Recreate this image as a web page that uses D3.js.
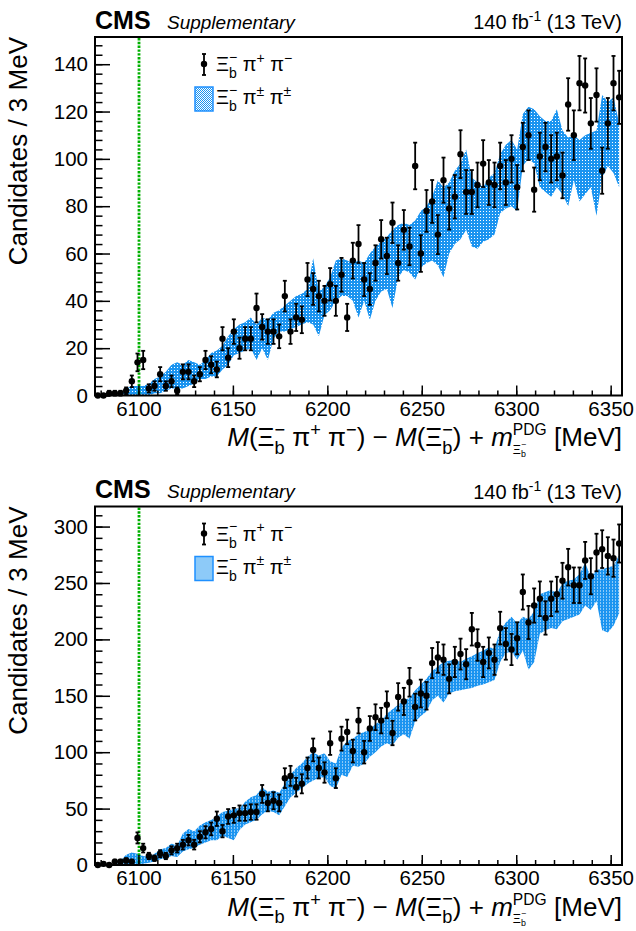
<!DOCTYPE html>
<html>
<head>
<meta charset="utf-8">
<script src="https://cdn.jsdelivr.net/npm/d3@7"></script>
<style>
  body { margin: 0; background: #fff; }
  svg text { font-family: "Liberation Sans", Arial, Helvetica, sans-serif; fill: #000; }
</style>
</head>
<body>
<svg id="chart" width="636" height="931"></svg>
<script>
// binning of the mass spectrum (3 MeV bins)
var binStart = 6077, binWidth = 3;
var xTicks = [6100, 6150, 6200, 6250, 6300, 6350];
var xMinorTicks = d3.range(6080, 6356, 10);
var thresholdMass = 6100.3;

// top panel: Xi_b- pi+ pi- candidates and same-sign band
var topCounts = [0,0,1,1,1,2,6,14,15,3, 4,9,4,6,2,10,10,6,9,15,
  13,11,24,16,27,20,24,24,37,29, 27,27,25,42,27,33,32,49,45,42,
  40,47,40,51,33,57,64,49,45,56, 66,59,73,56,70,63,97,60,78,82,
  68,91,79,84,102,86,86,89,98,90, 89,97,90,100,88,105,110,87,101,105,
  100,101,93,123,110,132,131,115,127,95, 115,132,126];
var topBandLow = [0,0,0,0,0,0,0,0,0,0, 1,1,2,3,3,3,4,5,7,7,
  8,8,11,13,17,18,19,20,15,20, 15,24,27,27,28,29,30,31,30,25,
  34,36,40,42,42,40,33,40,32,40, 44,45,37,50,53,52,49,54,56,57,
  55,50,60,64,66,70,63,62,65,66, 68,77,79,80,78,97,100,98,88,86,
  84,88,85,80,91,82,85,88,76,92, 97,94,88];
var topBandHigh = [0,0,0,0,1,3,4,4,4,5, 7,8,10,13,14,13,15,14,13,15,
  18,19,21,25,28,30,31,33,30,33, 32,35,36,38,40,42,43,45,58,44,
  46,50,57,58,57,56,57,56,60,63, 65,67,70,72,73,72,74,78,80,84,
  91,88,90,95,98,104,92,90,88,92, 94,102,106,108,104,119,122,121,118,116,
  116,121,112,109,110,108,110,111,112,127, 124,126,115];
var topYTicks = [0, 20, 40, 60, 80, 100, 120, 140];
var topYMinor = d3.range(0, 151, 4);

// bottom panel
var botCounts = [0,1,0,3,3,4,3,24,15,8, 6,10,8,13,15,18,22,18,25,29,
  32,41,30,43,44,46,46,47,47,63, 55,57,55,77,79,69,72,86,102,86,
  82,108,77,112,118,101,128,100,121,131, 128,142,117,149,145,162,140,152,150,179,
  184,182,165,180,187,178,209,195,180,188, 182,210,196,191,201,242,215,230,236,219,
  236,240,252,264,248,248,270,256,277,280, 274,272,285];
var botBandLow = [0,0,0,0,0,0,0,0,1,2, 3,5,6,8,7,12,14,15,18,20,
  22,22,26,24,22,31,36,38,40,45, 48,47,44,52,60,64,68,72,75,77,
  78,70,68,80,78,88,87,90,96,100, 105,108,106,113,116,112,127,132,136,146,
  150,144,152,154,155,156,157,159,160,162, 164,180,188,189,182,190,173,180,205,208,
  210,209,216,218,220,222,230,226,234,208, 206,212,223];
var botBandHigh = [0,0,0,0,4,9,11,10,8,7, 10,14,15,19,17,28,32,30,35,38,
  40,43,47,48,50,50,56,60,62,69, 65,66,64,72,80,86,90,96,100,97,
  99,92,90,104,110,112,116,118,120,125, 128,134,138,142,146,148,155,160,165,172,
  176,180,181,182,180,183,185,188,190,193, 192,208,215,220,214,220,218,225,240,242,
  244,241,250,252,253,258,268,255,262,262, 264,265,275];
var botYTicks = [0, 50, 100, 150, 200, 250, 300];
var botYMinor = d3.range(0, 318, 10);

var plotLeft = 95, plotRight = 622, plotH = 358.5;
var svg = d3.select("#chart");
var defs = svg.append("defs");

var band = defs.append("pattern").attr("id", "bandFill")
  .attr("width", 3).attr("height", 3).attr("patternUnits", "userSpaceOnUse");
band.append("rect").attr("width", 3).attr("height", 3).attr("fill", "#1b94f0");
band.append("rect").attr("width", 1).attr("height", 1).attr("fill", "#fff");

var legFill = defs.append("pattern").attr("id", "legFill")
  .attr("width", 2).attr("height", 2).attr("patternUnits", "userSpaceOnUse");
legFill.append("rect").attr("width", 2).attr("height", 2).attr("fill", "#1b94f0");
legFill.append("rect").attr("width", 1).attr("height", 1).attr("fill", "#fff");
legFill.append("rect").attr("x", 1).attr("y", 1).attr("width", 1).attr("height", 1).attr("fill", "#fff");

// text with sub/superscripts, parts flow left to right
function rich(parent, size, parts) {
  var t = parent.append("text").attr("x", 0).style("font-size", size + "px");
  var cur = 0, widths = [];
  parts.forEach(function (p) {
    var sp = t.append("tspan").text(p.t).style("font-size", (size * (p.k || 1)) + "px");
    var shift = (p.sh || 0) * size;
    sp.attr("dy", shift - cur);
    cur = shift;
    if (p.it) sp.style("font-style", "italic");
    if (p.dx) sp.attr("dx", p.dx(widths));
    widths.push(sp.node().getComputedTextLength());
  });
  return t;
}
function back(w) { return -w[w.length - 1]; }

// Xi_b^- with stacked sub/superscript
function XiPart(sub, sup) {
  return [
    { t: "Ξ" },
    { t: "b", k: 0.7, sh: sub },
    { t: "−", k: 0.7, sh: sup, dx: back }
  ];
}

function drawPanel(top, counts, bandLo, bandHi, yMax, yTicks, yMinor, id) {
  var g = svg.append("g").attr("transform", "translate(0," + top + ")");
  var x = d3.scaleLinear().domain([binStart, binStart + binWidth * counts.length]).range([plotLeft, plotRight]);
  var y = d3.scaleLinear().domain([0, yMax]).range([plotH, 0]);

  defs.append("clipPath").attr("id", "clip" + id)
    .append("rect").attr("x", plotLeft).attr("y", 0).attr("width", plotRight - plotLeft).attr("height", plotH);

  var bins = counts.map(function (c, i) {
    return { m: binStart + binWidth * (i + 0.5), n: c, lo: bandLo[i], hi: bandHi[i] };
  });

  // same-sign band
  g.append("path").datum(bins)
    .attr("clip-path", "url(#clip" + id + ")")
    .attr("fill", "url(#bandFill)")
    .attr("d", d3.area()
      .x(function (d) { return x(d.m); })
      .y0(function (d) { return y(d.lo); })
      .y1(function (d) { return y(d.hi); }));

  // threshold line
  g.append("line")
    .attr("x1", x(thresholdMass)).attr("x2", x(thresholdMass))
    .attr("y1", 1).attr("y2", plotH)
    .attr("stroke", "#00b000").attr("stroke-width", 2.8)
    .attr("stroke-dasharray", "2.4,1.4");

  // data points with Poisson uncertainties
  var pts = g.append("g").selectAll("g").data(bins.filter(function (d) { return d.n > 0; }))
    .enter().append("g").attr("stroke", "#000").attr("stroke-width", 1.8);
  pts.append("line")
    .attr("x1", function (d) { return x(d.m); }).attr("x2", function (d) { return x(d.m); })
    .attr("y1", function (d) { return y(d.n + Math.sqrt(d.n)); })
    .attr("y2", function (d) { return y(Math.max(0, d.n - Math.sqrt(d.n))); });
  pts.append("line")
    .attr("x1", function (d) { return x(d.m) - 2; }).attr("x2", function (d) { return x(d.m) + 2; })
    .attr("y1", function (d) { return y(d.n + Math.sqrt(d.n)); })
    .attr("y2", function (d) { return y(d.n + Math.sqrt(d.n)); });
  pts.append("line")
    .attr("x1", function (d) { return x(d.m) - 2; }).attr("x2", function (d) { return x(d.m) + 2; })
    .attr("y1", function (d) { return y(Math.max(0, d.n - Math.sqrt(d.n))); })
    .attr("y2", function (d) { return y(Math.max(0, d.n - Math.sqrt(d.n))); });
  g.append("g").selectAll("circle").data(bins).enter().append("circle")
    .attr("cx", function (d) { return x(d.m); })
    .attr("cy", function (d) { return y(d.n); })
    .attr("r", 3.2).attr("fill", "#000");

  // axes, ticks inside the frame
  var yAx = g.append("g").attr("transform", "translate(" + plotLeft + ",0)")
    .call(d3.axisLeft(y).tickValues(yTicks).tickSize(-15).tickSizeOuter(0).tickPadding(7));
  yAx.selectAll("text").style("font-size", "20.5px").style("font-family", null);
  g.append("g").attr("transform", "translate(" + plotLeft + ",0)")
    .call(d3.axisLeft(y).tickValues(yMinor).tickSize(-7.5).tickSizeOuter(0).tickFormat(""));
  var xAx = g.append("g").attr("transform", "translate(0," + plotH + ")")
    .call(d3.axisBottom(x).tickValues(xTicks).tickSize(-10).tickSizeOuter(0).tickFormat(d3.format("d")));
  xAx.selectAll("text").attr("y", 20).attr("dy", 0).style("font-size", "20.5px").style("font-family", null);
  g.append("g").attr("transform", "translate(0," + plotH + ")")
    .call(d3.axisBottom(x).tickValues(xMinorTicks).tickSize(-5).tickSizeOuter(0).tickFormat(""));
  g.selectAll(".domain").remove();
  g.selectAll(".tick line").attr("stroke-width", 1.5);

  g.append("rect").attr("x", plotLeft).attr("y", 0)
    .attr("width", plotRight - plotLeft).attr("height", plotH)
    .attr("fill", "none").attr("stroke", "#000").attr("stroke-width", 2);

  // header
  g.append("text").attr("x", plotLeft).attr("y", -8.5)
    .style("font-size", "25px").style("font-weight", "bold").text("CMS");
  g.append("text").attr("x", 167).attr("y", -8.5)
    .style("font-size", "19px").style("font-style", "italic").text("Supplementary");
  var lumi = rich(g, 20, [
    { t: "140 fb" }, { t: "-1", k: 0.7, sh: -0.4 }, { t: " (13 TeV)" }
  ]).attr("y", -8);
  var lb = lumi.node().getBBox();
  lumi.attr("x", plotRight - (lb.x + lb.width));

  // axis titles
  g.append("text")
    .attr("transform", "translate(27,0) rotate(-90)")
    .attr("text-anchor", "end")
    .style("font-size", "26px")
    .text("Candidates / 3 MeV");

  var xt = rich(g, 26, [].concat(
    [{ t: "M", it: true }, { t: "(" }], XiPart(0.3, -0.4),
    [{ t: " π" }, { t: "+", k: 0.7, sh: -0.38 }, { t: " π" }, { t: "−", k: 0.7, sh: -0.38 },
     { t: ") − " }, { t: "M", it: true }, { t: "(" }], XiPart(0.3, -0.4),
    [{ t: ") + " }, { t: "m", it: true }, { t: "PDG", k: 0.6, sh: -0.42 },
     { t: "Ξ", k: 0.48, sh: 0.3, dx: back },
     { t: "b", k: 0.34, sh: 0.42 },
     { t: "−", k: 0.34, sh: 0.02, dx: back },
     { t: " [MeV]", dx: function (w) {
        var n = w.length;
        return Math.max(0, w[n - 4] - w[n - 3] - w[n - 2]);
      } }]
  )).attr("y", plotH + 50.5);
  var xb = xt.node().getBBox();
  xt.attr("x", plotRight - (xb.x + xb.width));

  // legend
  var leg = g.append("g").attr("stroke", "#000").attr("stroke-width", 1.8);
  leg.append("line").attr("x1", 204).attr("x2", 204).attr("y1", 17).attr("y2", 38);
  leg.append("line").attr("x1", 202).attr("x2", 206).attr("y1", 17).attr("y2", 17);
  leg.append("line").attr("x1", 202).attr("x2", 206).attr("y1", 38).attr("y2", 38);
  g.append("circle").attr("cx", 204).attr("cy", 27).attr("r", 3.2).attr("fill", "#000");
  rich(g, 20, [].concat(XiPart(0.36, -0.46), [{ t: " π" }, { t: "+", k: 0.7, sh: -0.42 },
    { t: " π" }, { t: "−", k: 0.7, sh: -0.42 }])).attr("x", 216).attr("y", 34);
  g.append("rect").attr("x", 195).attr("y", 50).attr("width", 18).attr("height", 24)
    .attr("fill", "url(#legFill)").attr("stroke", "#1e90ff").attr("stroke-width", 1.5);
  rich(g, 20, [].concat(XiPart(0.36, -0.46), [{ t: " π" }, { t: "±", k: 0.7, sh: -0.42 },
    { t: " π" }, { t: "±", k: 0.7, sh: -0.42 }])).attr("x", 216).attr("y", 67);
}

drawPanel(37, topCounts, topBandLow, topBandHigh, 151.5, topYTicks, topYMinor, "Top");
drawPanel(506.5, botCounts, botBandLow, botBandHigh, 317.8, botYTicks, botYMinor, "Bot");
</script>
</body>
</html>
